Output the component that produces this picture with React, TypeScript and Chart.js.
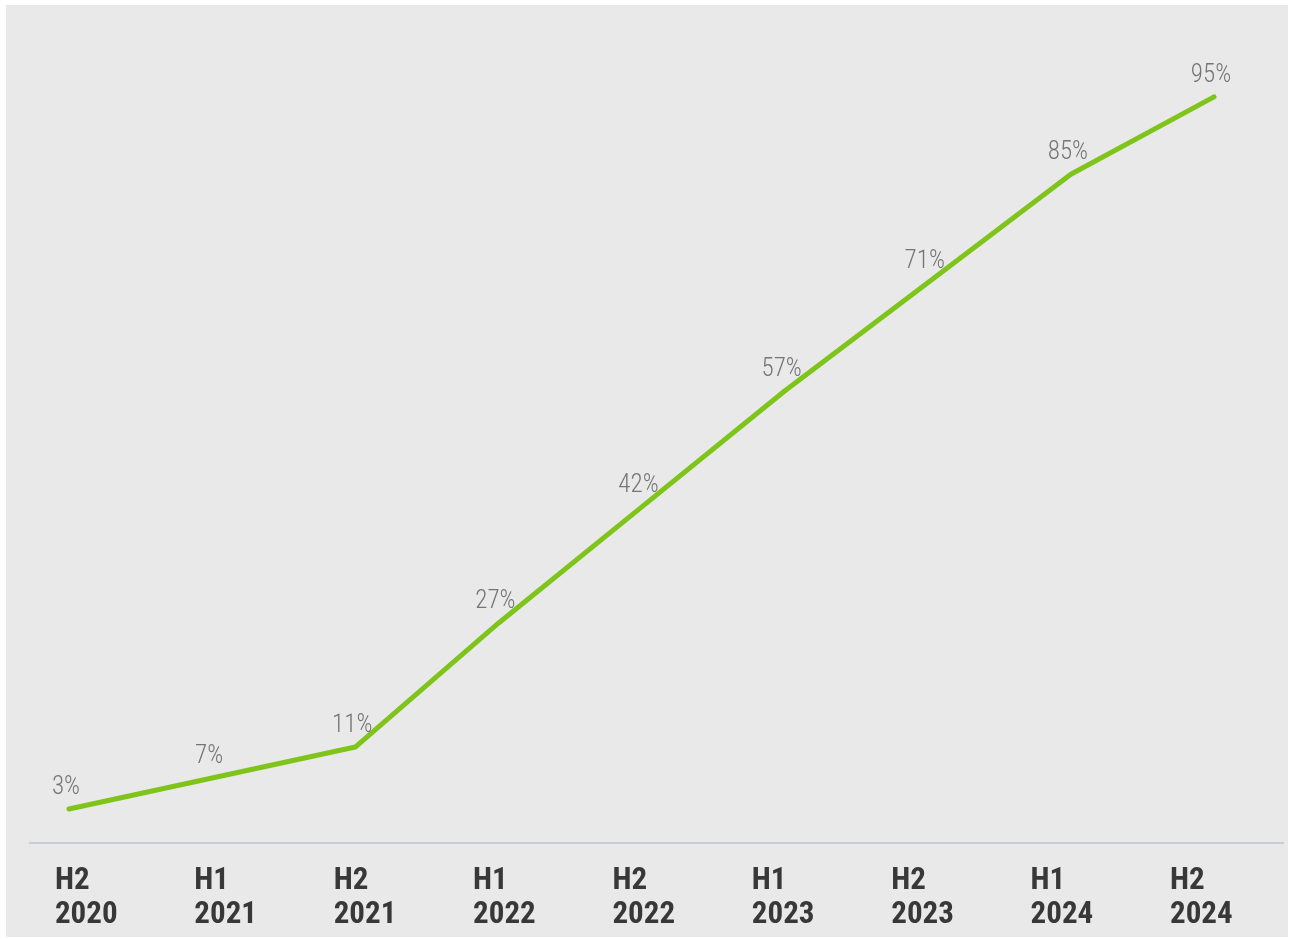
import React, { useEffect, useRef } from "react";
import { Chart, registerables } from "chart.js";

Chart.register(...registerables);

const halves = ["H2", "H1", "H2", "H1", "H2", "H1", "H2", "H1", "H2"];
const years = ["2020", "2021", "2021", "2022", "2022", "2023", "2023", "2024", "2024"];
const shares = [3, 7, 11, 27, 42, 57, 71, 85, 95];

const LINE_COLOR = "#7fc41a";
const FONT = "Roboto, 'DejaVu Sans', sans-serif";

const valueLabels = {
  id: "valueLabels",
  afterDatasetsDraw(chart: any) {
    const ctx = chart.ctx;
    const meta = chart.getDatasetMeta(0);
    ctx.save();
    ctx.font = `300 condensed 25px ${FONT}`;
    ctx.fillStyle = "#757575";
    ctx.textAlign = "center";
    ctx.textBaseline = "alphabetic";
    meta.data.forEach((pt: any, i: number) => {
      ctx.fillText(`${shares[i]}%`, pt.x - 3, pt.y - 15);
    });
    ctx.restore();
  },
};

export default function App() {
  const ref = useRef<HTMLCanvasElement | null>(null);

  useEffect(() => {
    if (!ref.current) return;
    const chart = new Chart(ref.current, {
      type: "line",
      data: {
        datasets: [
          {
            data: shares.map((v, i) => ({ x: i, y: v })),
            borderColor: LINE_COLOR,
            borderWidth: 5,
            borderCapStyle: "round",
            borderJoinStyle: "round",
            pointRadius: 0,
            tension: 0,
            xAxisID: "x",
            yAxisID: "y",
          },
        ],
      },
      options: {
        animation: false,
        responsive: false,
        maintainAspectRatio: false,
        layout: { padding: { top: 30, left: 24, right: 5, bottom: 0 } },
        plugins: {
          legend: { display: false },
          tooltip: { enabled: false },
        },
        scales: {
          x: {
            type: "linear",
            display: false,
            min: -0.2725,
            max: 8.482,
          },
          xl: {
            type: "linear",
            position: "bottom",
            min: -0.179,
            max: 8.811,
            afterBuildTicks: (axis: any) => {
              axis.ticks = halves.map((_, i) => ({ value: i }));
            },
            afterFit: (axis: any) => {
              axis.height = 94;
            },
            grid: { display: false, drawTicks: false },
            border: { display: true, color: "#c9ccd4", width: 2 },
            ticks: {
              autoSkip: false,
              maxRotation: 0,
              align: "start",
              padding: 22,
              color: "#383838",
              font: { family: FONT, size: 31, weight: "bold condensed", lineHeight: 1.08 },
              callback: (v: any) => [halves[v], years[v]],
            },
          },
          y: {
            display: false,
            min: -1.4,
            max: 103.0,
          },
        },
      },
      plugins: [valueLabels],
    });
    return () => chart.destroy();
  }, []);

  return (
    <div
      style={{
        position: "absolute",
        left: 6,
        top: 5,
        width: 1282,
        height: 932,
        background: "#e9e9e9",
      }}
    >
      <canvas ref={ref} width={1282} height={932} style={{ display: "block" }} />
    </div>
  );
}
